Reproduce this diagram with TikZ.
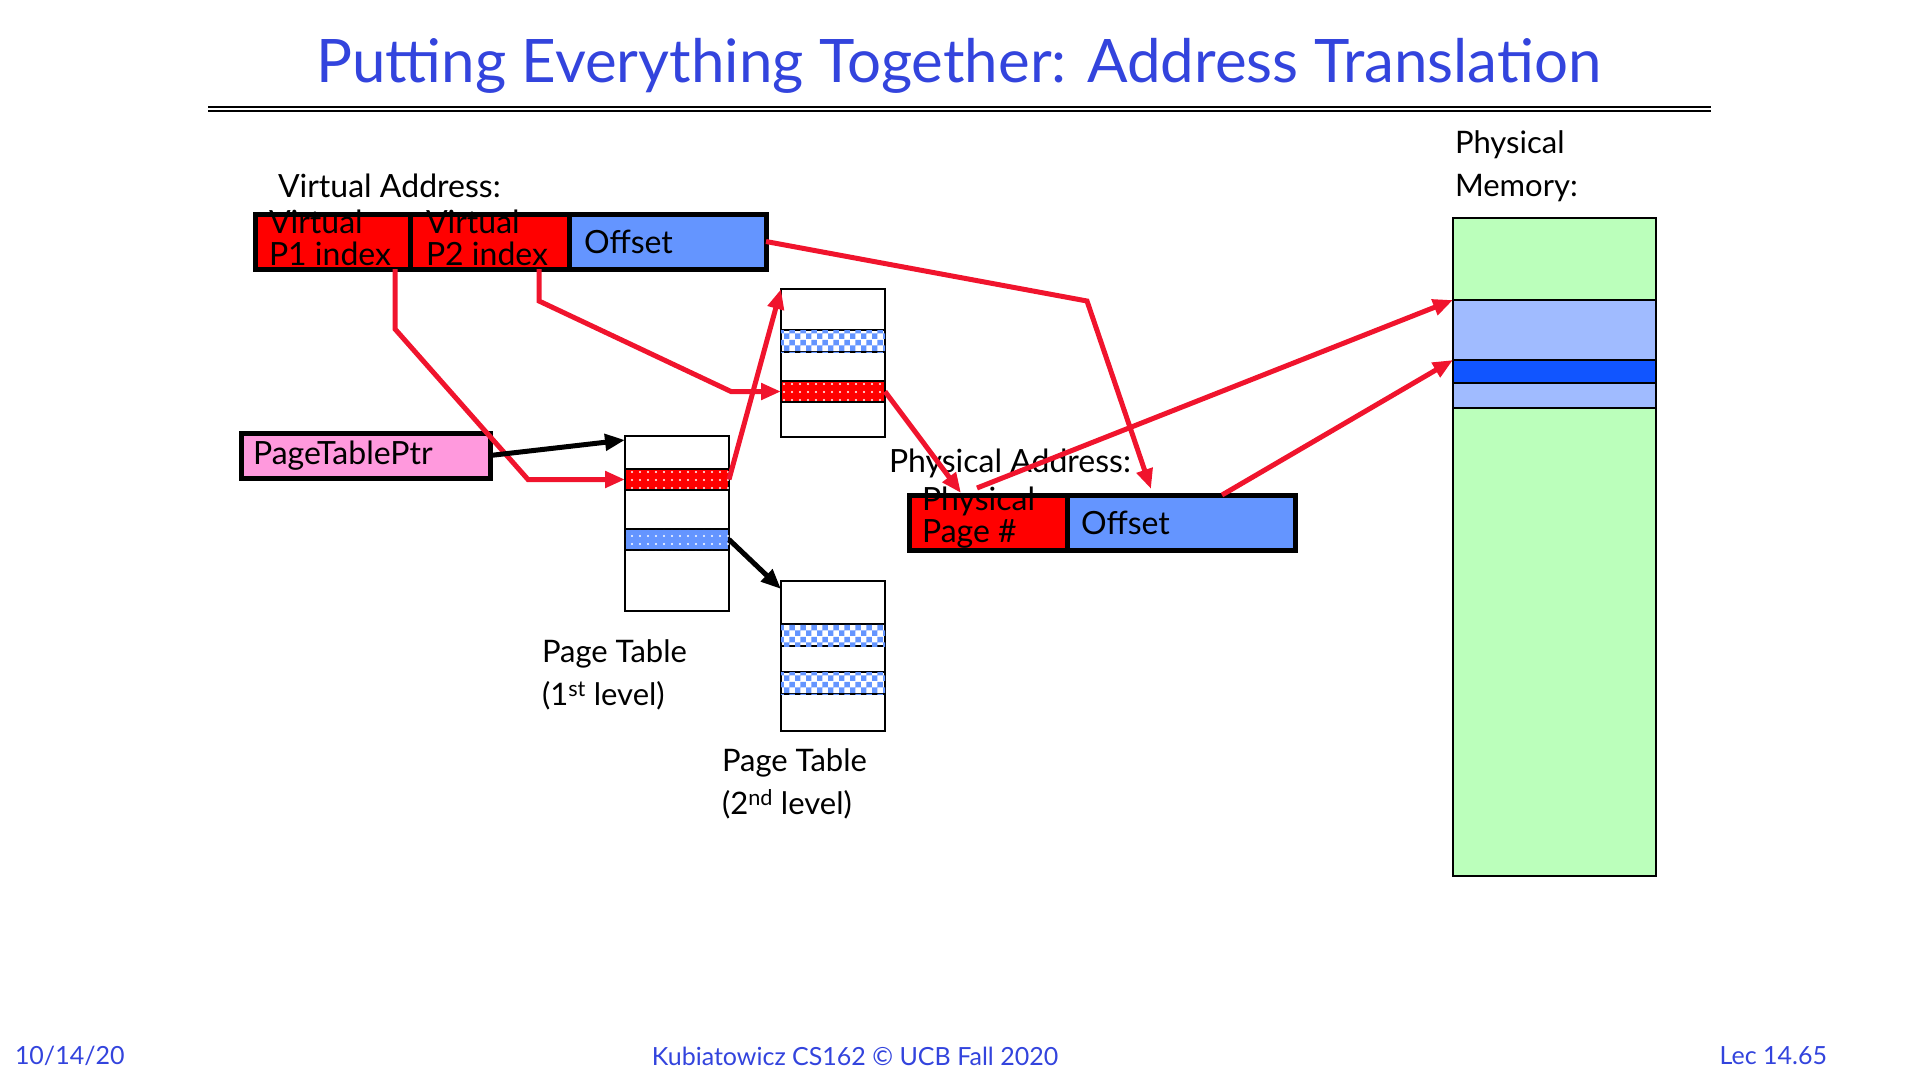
\documentclass[tikz,border=0pt]{standalone}
\usepackage{fontspec}
\setmainfont{Lato}
\usetikzlibrary{positioning, patterns, patterns.meta, arrows.meta}

\definecolor{titleblue}{RGB}{51,68,221}
\definecolor{linkred}{RGB}{240,20,45}
\definecolor{cellblue}{RGB}{100,149,255}
\definecolor{ptrpink}{RGB}{255,153,221}
\definecolor{memgreen}{RGB}{187,255,187}
\definecolor{memlight}{RGB}{160,187,255}
\definecolor{memdark}{RGB}{17,85,255}

\begin{document}
\begin{tikzpicture}[x=1pt, y=-1pt, >={Triangle[length=20pt,width=16pt]},
    every node/.style={inner sep=0pt, outer sep=0pt},
    cell/.style={minimum height=55pt, anchor=north west, fill=#1},
    frame/.style={draw=black, line width=5pt},
    txt/.style={font=\fontsize{32}{32}\selectfont, align=left},
    lbl/.style={font=\fontsize{31}{43}\selectfont, align=left},
    tbl/.style={draw=black, line width=2pt, fill=white, minimum width=104pt, anchor=north west},
    redrow/.style={draw=black, line width=2pt, minimum width=104pt, minimum height=21pt, anchor=north west,
        fill=red, postaction={pattern={Dots[distance=8pt, radius=1.2pt]}, pattern color=white}},
    bluerow/.style={draw=black, line width=2pt, minimum width=104pt, minimum height=21pt, anchor=north west,
        fill=cellblue, postaction={pattern={Dots[distance=8pt, radius=1.2pt]}, pattern color=white}},
    checkrow/.style={draw=black, line width=2pt, minimum width=104pt, minimum height=22pt, anchor=north west,
        fill=white, postaction={pattern=checkerboard, pattern color=cellblue}},
    band/.style={draw=black, line width=2pt, minimum width=203pt, anchor=north west, fill=#1},
    foot/.style={font=\fontsize{25}{30}\selectfont, text=titleblue},
    link/.style={->, draw=linkred, line width=5pt},
    blink/.style={->, draw=black, line width=5pt}]
  \useasboundingbox (0,0) rectangle (1920,1080);

  % title
  \node[font=\fontsize{60}{72}\selectfont, text=titleblue] (title) at (959,66) {Putting Everything Together: Address Translation};
  \draw[line width=2pt] (208,107) -- (1711,107);
  \draw[line width=1.2pt] (208,111) -- (1711,111);

  % virtual address
  \node[txt, anchor=west] (valbl) at (278,186) {Virtual Address:};
  \node[cell=red, minimum width=155pt] (va1) at (255,214) {};
  \node[cell=red, minimum width=159pt] (va2) at (va1.north east) {};
  \node[cell=cellblue, minimum width=197pt] (va3) at (va2.north east) {};
  \node[txt, anchor=south west] (va1t) at ([xshift=14pt, yshift=3pt]va1.south west) {Virtual\\P1 index};
  \node[txt, anchor=south west] (va2t) at ([xshift=16pt, yshift=3pt]va2.south west) {Virtual\\P2 index};
  \node[txt, anchor=west] (va3t) at ([xshift=15pt]va3.west) {Offset};
  \draw[frame] (va1.north west) rectangle (va3.south east);
  \draw[frame] (va1.north east) -- (va1.south east);
  \draw[frame] (va2.north east) -- (va2.south east);

  % page table pointer
  \node[cell=ptrpink, anchor=north west, draw=black, line width=5pt, minimum width=249pt, minimum height=45pt,
        txt, text width=225pt] (ptr) at (241,433) {PageTablePtr};

  % 1st level table
  \node[tbl, minimum height=175pt] (pt1) at (625,436) {};
  \node[redrow] (pt1r) at (625,469) {};
  \node[bluerow] (pt1b) at (625,529) {};
  \node[lbl, anchor=west] (pt1lbl) at (542,675) {Page Table\\(1\textsuperscript{st} level)};

  % 2nd level tables
  \node[tbl, minimum height=148pt] (pt2) at (781,289) {};
  \node[checkrow] (pt2b) at (781,330) {};
  \node[redrow] (pt2r) at (781,381) {};
  \node[tbl, minimum height=150pt] (pt3) at (781,581) {};
  \node[checkrow] (pt3b) at (781,624) {};
  \node[checkrow] (pt3c) at (781,672) {};
  \node[lbl, anchor=west] (pt3lbl) at (722,784) {Page Table\\(2\textsuperscript{nd} level)};

  % physical address
  \node[txt, anchor=west] (palbl) at (889,463) {Physical Address:};
  \node[cell=red, minimum width=158pt] (pa1) at (909,495) {};
  \node[cell=cellblue, minimum width=228pt] (pa2) at (pa1.north east) {};
  \node[txt, anchor=south west] (pa1t) at ([xshift=13pt, yshift=2pt]pa1.south west) {Physical\\Page \#};
  \node[txt, anchor=west] (pa2t) at ([xshift=14pt]pa2.west) {Offset};
  \draw[frame] (pa1.north west) rectangle (pa2.south east);
  \draw[frame] (pa1.north east) -- (pa1.south east);

  % physical memory
  \node[lbl, anchor=west] (memlbl) at (1455,166) {Physical\\Memory:};
  \node[band=memgreen, minimum height=658pt] (mem) at (1453,218) {};
  \node[band=memlight, minimum height=60pt] (mb1) at (1453,300) {};
  \node[band=memdark, minimum height=23pt] (mb2) at (1453,360) {};
  \node[band=memlight, minimum height=25pt] (mb3) at (1453,383) {};

  % connectors
  \coordinate (obend) at (1087,301);
  \draw[link] ([xshift=-15pt]va1.south east) -- ++(0,60) -- ([xshift=-97pt]pt1r.west) -- (pt1r.west);
  \draw[link] ([xshift=-30pt]va2.south east) -- ++(0,32) -- ([xshift=-50pt]pt2r.west) -- (pt2r.west);
  \draw[link] (va3.east) -- (obend) -- ([xshift=84pt, yshift=6pt]pa2.north west);
  \draw[blink] (ptr.east) -- ([yshift=-4pt]pt1.north west);
  \draw[link] (pt1r.east) -- (pt2.north west);
  \draw[blink] (pt1b.east) -- ([yshift=-8pt]pt3.north west);
  \draw[link] (pt2r.east) -- ([xshift=52pt, yshift=2pt]pa1.north west);
  \draw[link] ([xshift=68pt, yshift=7pt]pa1.north west) -- (mb1.north west);
  \draw[link] ([xshift=155pt]pa2.north west) -- (mb2.north west);

  % footer
  \node[foot, anchor=west] (fdate) at (15,1056) {10/14/20};
  \node[foot] (fcourse) at (855,1056) {Kubiatowicz CS162 © UCB Fall 2020};
  \node[foot, anchor=east] (flec) at (1827,1056) {Lec 14.65};
\end{tikzpicture}
\end{document}
